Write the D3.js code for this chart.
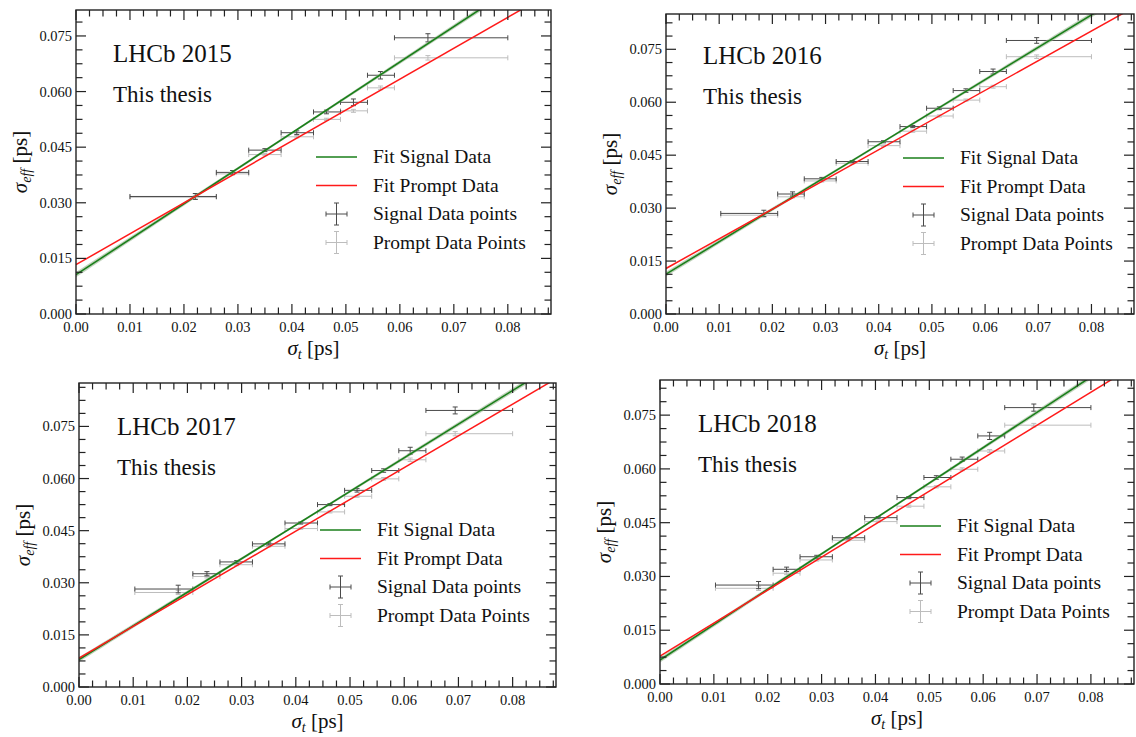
<!DOCTYPE html>
<html><head><meta charset="utf-8">
<script src="https://cdn.jsdelivr.net/npm/d3@7"></script>
<style>body{margin:0;background:#fff}svg{display:block}text{fill:#111}</style>
</head><body><svg id="c" width="1136" height="737" font-family="'Liberation Serif', 'Times New Roman', serif"></svg>
<script>
// ---------- data ----------
const years = ["2015","2016","2017","2018"];
const xTicks = [0,0.01,0.02,0.03,0.04,0.05,0.06,0.07,0.08];
const yTicks = [0,0.015,0.030,0.045,0.060,0.075];
const legendLabels = ["Fit Signal Data","Fit Prompt Data","Signal Data points","Prompt Data Points"];

const binLo15 = [0.010,0.026,0.032,0.038,0.044,0.049,0.054,0.059];
const binHi15 = [0.026,0.032,0.038,0.044,0.049,0.054,0.059,0.080];
const binLo = [0.0103,0.021,0.026,0.032,0.038,0.044,0.049,0.054,0.059,0.064];
const binHi = [0.021,0.026,0.032,0.038,0.044,0.049,0.054,0.059,0.064,0.080];

const xMean2015 = [0.0221,0.0290,0.0350,0.0409,0.0464,0.0514,0.0564,0.0652];
const sig2015 = [0.0317,0.0382,0.0442,0.0489,0.0545,0.0571,0.0644,0.0745];
const sigErr2015 = [0.0008,0.0005,0.0004,0.0005,0.0005,0.0009,0.0010,0.0011];
const prm2015 = [0.0315,0.0378,0.0430,0.0478,0.0525,0.0548,0.0610,0.0691];
const prmErr2015 = [0.0005,0.0003,0.0003,0.0003,0.0003,0.0004,0.0005,0.0006];

const xMean2016 = [0.0184,0.0238,0.0293,0.0350,0.0409,0.0464,0.0514,0.0564,0.0615,0.0697];
const sig2016 = [0.0285,0.0340,0.0383,0.0432,0.0488,0.0531,0.0583,0.0633,0.0687,0.0775];
const sigErr2016 = [0.0009,0.0006,0.0004,0.0003,0.0003,0.0003,0.0004,0.0005,0.0007,0.0008];
const prm2016 = [0.0280,0.0332,0.0377,0.0427,0.0477,0.0518,0.0561,0.0606,0.0644,0.0729];
const prmErr2016 = [0.0005,0.0003,0.0003,0.0002,0.0002,0.0003,0.0003,0.0003,0.0004,0.0005];

const xMean2017 = [0.0183,0.0236,0.0291,0.0350,0.0409,0.0463,0.0513,0.0562,0.0611,0.0694];
const sig2017 = [0.0282,0.0326,0.0360,0.0412,0.0472,0.0525,0.0566,0.0623,0.0680,0.0796];
const sigErr2017 = [0.0011,0.0006,0.0004,0.0003,0.0003,0.0003,0.0005,0.0005,0.0010,0.0010];
const prm2017 = [0.0272,0.0318,0.0352,0.0405,0.0456,0.0504,0.0549,0.0599,0.0654,0.0729];
const prmErr2017 = [0.0006,0.0004,0.0003,0.0002,0.0002,0.0003,0.0003,0.0004,0.0005,0.0006];

const xMean2018 = [0.0183,0.0235,0.0291,0.0349,0.0405,0.0462,0.0513,0.0561,0.0612,0.0694];
const sig2018 = [0.0276,0.0320,0.0355,0.0408,0.0464,0.0520,0.0576,0.0627,0.0692,0.0771];
const sigErr2018 = [0.0010,0.0006,0.0004,0.0003,0.0003,0.0003,0.0005,0.0006,0.0010,0.0010];
const prm2018 = [0.0267,0.0309,0.0346,0.0401,0.0453,0.0496,0.0550,0.0599,0.0650,0.0722];
const prmErr2018 = [0.0006,0.0004,0.0003,0.0002,0.0002,0.0003,0.0003,0.0004,0.0004,0.0005];

// fits: [intercept, slope]
const fitSignal = [[0.0106,0.956],[0.0113,0.918],[0.0079,0.968],[0.0067,0.987]];
const fitPrompt = [[0.0133,0.834],[0.0129,0.841],[0.0083,0.914],[0.0078,0.920]];
const yMax = [0.082,0.085,0.0875,0.0848];

// ---------- layout ----------
const boxes = [
  {l:76,r:551,t:10,b:314, lx:316, ly:157, tx:113, ty1:62, ty2:102},
  {l:666,r:1134,t:14,b:314, lx:903, ly:158, tx:703, ty1:64, ty2:104},
  {l:79,r:556,t:383,b:687, lx:320, ly:530, tx:117, ty1:435, ty2:475},
  {l:660,r:1134,t:380,b:684, lx:900, ly:526, tx:698, ty1:432, ty2:472}
];
const datasets = [
  {lo:binLo15,hi:binHi15,x:xMean2015,s:sig2015,se:sigErr2015,p:prm2015,pe:prmErr2015},
  {lo:binLo,hi:binHi,x:xMean2016,s:sig2016,se:sigErr2016,p:prm2016,pe:prmErr2016},
  {lo:binLo,hi:binHi,x:xMean2017,s:sig2017,se:sigErr2017,p:prm2017,pe:prmErr2017},
  {lo:binLo,hi:binHi,x:xMean2018,s:sig2018,se:sigErr2018,p:prm2018,pe:prmErr2018}
];

const svg = d3.select("#c");
const SIG_COL = "#4a4a4a", PRM_COL = "#bdbdbd";

function errbar(g, x, y, xlo, xhi, ylo, yhi, col, cap){
  g.append("line").attr("x1",xlo).attr("x2",xhi).attr("y1",y).attr("y2",y).attr("stroke",col).attr("stroke-width",1);
  g.append("line").attr("x1",x).attr("x2",x).attr("y1",ylo).attr("y2",yhi).attr("stroke",col).attr("stroke-width",1);
  [xlo,xhi].forEach(v=>g.append("line").attr("x1",v).attr("x2",v).attr("y1",y-cap).attr("y2",y+cap).attr("stroke",col).attr("stroke-width",1));
  [ylo,yhi].forEach(v=>g.append("line").attr("x1",x-cap).attr("x2",x+cap).attr("y1",v).attr("y2",v).attr("stroke",col).attr("stroke-width",1));
}

boxes.forEach((B,i)=>{
  const D = datasets[i];
  const x = d3.scaleLinear().domain([0,0.088]).range([B.l,B.r]);
  const y = d3.scaleLinear().domain([0,yMax[i]]).range([B.b,B.t]);
  const g = svg.append("g");
  const cid = "clip"+i;
  g.append("clipPath").attr("id",cid).append("rect").attr("x",B.l).attr("y",B.t).attr("width",B.r-B.l).attr("height",B.b-B.t);
  const pg = g.append("g").attr("clip-path",`url(#${cid})`);

  // prompt points
  D.x.forEach((xv,k)=>errbar(pg, x(xv), y(D.p[k]), x(D.lo[k]), x(D.hi[k]), y(D.p[k]-D.pe[k]), y(D.p[k]+D.pe[k]), PRM_COL, 2.5));
  // signal points
  D.x.forEach((xv,k)=>errbar(pg, x(xv), y(D.s[k]), x(D.lo[k]), x(D.hi[k]), y(D.s[k]-D.se[k]), y(D.s[k]+D.se[k]), SIG_COL, 2.5));

  // fit band + lines
  const xs = d3.range(0,0.0885,0.001);
  const fs = fitSignal[i], fp = fitPrompt[i];
  const hw = v => 0.0003 + 0.010*Math.abs(v-0.04);
  pg.append("path").datum(xs)
    .attr("d", d3.area().x(v=>x(v)).y0(v=>y(fs[0]+fs[1]*v-hw(v))).y1(v=>y(fs[0]+fs[1]*v+hw(v))))
    .attr("fill","#8fae86").attr("opacity",0.55);
  const ln = f => d3.line().x(v=>x(v)).y(v=>y(f[0]+f[1]*v));
  pg.append("path").datum([0,0.088]).attr("d",ln(fs)).attr("stroke","#1a7f1a").attr("stroke-width",1.6).attr("fill","none");
  pg.append("path").datum([0,0.088]).attr("d",ln(fp)).attr("stroke","#ff1a1a").attr("stroke-width",1.5).attr("fill","none");

  // frame
  g.append("rect").attr("x",B.l).attr("y",B.t).attr("width",B.r-B.l).attr("height",B.b-B.t)
    .attr("fill","none").attr("stroke","#222").attr("stroke-width",1.4);

  // ticks (inward on all sides)
  const minorX = d3.range(0,0.0881,0.0025);
  const minorY = d3.range(0,yMax[i]+1e-9,0.00375);
  const isMajX = v => Math.abs(v/0.01 - Math.round(v/0.01))<1e-6;
  const isMajY = v => Math.abs(v/0.015 - Math.round(v/0.015))<1e-6;
  minorX.forEach(v=>{
    const L = isMajX(v)?10:6.5, px=x(v);
    g.append("line").attr("x1",px).attr("x2",px).attr("y1",B.b).attr("y2",B.b-L).attr("stroke","#222").attr("stroke-width",1.2);
    g.append("line").attr("x1",px).attr("x2",px).attr("y1",B.t).attr("y2",B.t+L).attr("stroke","#222").attr("stroke-width",1.2);
  });
  minorY.forEach(v=>{
    const L = isMajY(v)?10:6.5, py=y(v);
    g.append("line").attr("x1",B.l).attr("x2",B.l+L).attr("y1",py).attr("y2",py).attr("stroke","#222").attr("stroke-width",1.2);
    g.append("line").attr("x1",B.r).attr("x2",B.r-L).attr("y1",py).attr("y2",py).attr("stroke","#222").attr("stroke-width",1.2);
  });
  // tick labels
  xTicks.forEach(v=>g.append("text").attr("x",x(v)).attr("y",B.b+18).attr("text-anchor","middle").attr("font-size",14.5).text(v.toFixed(2)));
  yTicks.forEach(v=>g.append("text").attr("x",B.l-4).attr("y",y(v)+5).attr("text-anchor","end").attr("font-size",14.5).text(v.toFixed(3)));

  // axis titles
  const xt = g.append("text").attr("x",(B.l+B.r)/2).attr("y",B.b+41).attr("text-anchor","middle").attr("font-size",21);
  xt.append("tspan").attr("font-style","italic").text("σ");
  xt.append("tspan").attr("font-style","italic").attr("font-size",14).attr("dy",4).text("t");
  xt.append("tspan").attr("dy",-4).text(" [ps]");
  const cy = (B.t+B.b)/2, cx = B.l-49;
  const yt = g.append("text").attr("transform",`translate(${cx},${cy}) rotate(-90)`).attr("text-anchor","middle").attr("font-size",21);
  yt.append("tspan").attr("font-style","italic").text("σ");
  yt.append("tspan").attr("font-style","italic").attr("font-size",14).attr("dy",4).text("eff");
  yt.append("tspan").attr("dy",-4).text(" [ps]");

  // annotations
  g.append("text").attr("x",B.tx).attr("y",B.ty1).attr("font-size",25).text("LHCb " + years[i]);
  g.append("text").attr("x",B.tx).attr("y",B.ty2).attr("font-size",23).text("This thesis");

  // legend
  const rows = [0,28.5,57,85.5];
  const tX = B.lx+57;
  g.append("line").attr("x1",B.lx).attr("x2",B.lx+41).attr("y1",B.ly+rows[0]).attr("y2",B.ly+rows[0]).attr("stroke","#1a7f1a").attr("stroke-width",1.6);
  g.append("line").attr("x1",B.lx).attr("x2",B.lx+41).attr("y1",B.ly+rows[1]).attr("y2",B.ly+rows[1]).attr("stroke","#ff1a1a").attr("stroke-width",1.5);
  const ic = B.lx+20.5;
  errbar(g, ic, B.ly+rows[2], ic-10.5, ic+10.5, B.ly+rows[2]+11, B.ly+rows[2]-11, SIG_COL, 2.5);
  errbar(g, ic, B.ly+rows[3], ic-10.5, ic+10.5, B.ly+rows[3]+11, B.ly+rows[3]-11, PRM_COL, 2.5);
  legendLabels.forEach((t,k)=>g.append("text").attr("x",tX).attr("y",B.ly+rows[k]+6).attr("font-size",19.5).text(t));
});
</script></body></html>
